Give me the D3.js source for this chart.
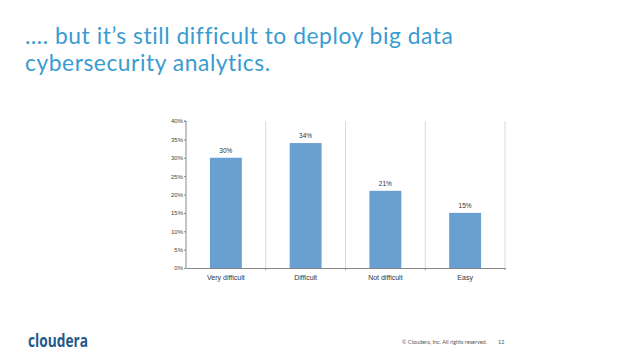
<!DOCTYPE html>
<html>
<head>
<meta charset="utf-8">
<script src="https://cdn.jsdelivr.net/npm/d3@7"></script>
<style>
  body { margin: 0; background: #fff; }
  svg { display: block; }
</style>
</head>
<body>
<svg width="638" height="359"></svg>
<script>
// datos del grafico
const categories = ["Very difficult", "Difficult", "Not difficult", "Easy"];
const values = [30, 34, 21, 15];
const yTicks = [0, 5, 10, 15, 20, 25, 30, 35, 40];
const titleLines = ["…. but it’s still difficult to deploy big data", "cybersecurity analytics."];

const svg = d3.select("svg");

// Titulo
svg.append("g")
  .selectAll("text")
  .data(titleLines)
  .enter()
  .append("text")
  .attr("x", 25)
  .attr("y", (d, i) => 44 + i * 27)
  .attr("fill", "#3a9bd0")
  .attr("font-family", "Lato, 'Open Sans', sans-serif")
  .attr("font-size", 22.8)
  .attr("letter-spacing", 0.55)
  .text((d) => d);

// Area del grafico
const plotLeft = 186, plotRight = 505, plotTop = 121, plotBottom = 268;

const x = d3.scaleBand().domain(categories).range([plotLeft, plotRight]).paddingInner(0.6).paddingOuter(0.3);
const xBand = d3.scaleBand().domain(categories).range([plotLeft, plotRight]);
const y = d3.scaleLinear().domain([0, 40]).range([plotBottom, plotTop]);

const chart = svg.append("g");

// Separadores verticales
chart.append("g")
  .selectAll("line")
  .data(categories)
  .enter()
  .append("line")
  .attr("x1", (d) => xBand(d) + xBand.bandwidth())
  .attr("x2", (d) => xBand(d) + xBand.bandwidth())
  .attr("y1", plotTop)
  .attr("y2", plotBottom)
  .attr("stroke", "#d9d9d9")
  .attr("stroke-width", 1);

// Barras
chart.append("g")
  .selectAll("rect")
  .data(values)
  .enter()
  .append("rect")
  .attr("x", (d, i) => x(categories[i]))
  .attr("width", x.bandwidth())
  .attr("y", (d) => y(d))
  .attr("height", (d) => plotBottom - y(d))
  .attr("fill", "#6a9fd2");

// Etiquetas de valores
chart.append("g")
  .selectAll("text")
  .data(values)
  .enter()
  .append("text")
  .attr("x", (d, i) => x(categories[i]) + x.bandwidth() / 2)
  .attr("y", (d) => y(d) - 5)
  .attr("text-anchor", "middle")
  .attr("font-family", "'Liberation Sans', Arial, sans-serif")
  .attr("font-size", 6.5)
  .attr("fill", "#333")
  .text((d) => d + "%");

// Eje Y
const yAxis = chart.append("g")
  .attr("transform", `translate(${plotLeft},0)`)
  .call(d3.axisLeft(y).tickValues(yTicks).tickSize(2).tickFormat((d) => d + "%"));
yAxis.select(".domain").attr("stroke", "#888").attr("d", `M-2,${plotTop}H0V${plotBottom}`);
yAxis.selectAll(".tick line").attr("stroke", "#888");
yAxis.selectAll(".tick text")
  .attr("font-family", "'Liberation Sans', Arial, sans-serif")
  .attr("font-size", 6)
  .attr("fill", "#444")
  .attr("x", -3);

// Eje X
const xAxis = chart.append("g")
  .attr("transform", `translate(0,${plotBottom})`)
  .call(d3.axisBottom(xBand).tickSize(0).tickPadding(7));
xAxis.select(".domain").attr("stroke", "#888");
xAxis.selectAll(".tick text")
  .attr("font-family", "'Liberation Sans', Arial, sans-serif")
  .attr("font-size", 7)
  .attr("fill", "#333");
xAxis.append("g")
  .selectAll("line")
  .data(categories)
  .enter()
  .append("line")
  .attr("x1", (d) => xBand(d) + xBand.bandwidth())
  .attr("x2", (d) => xBand(d) + xBand.bandwidth())
  .attr("y1", 0)
  .attr("y2", 2)
  .attr("stroke", "#888");

// Pie de pagina
svg.append("text")
  .attr("x", 28)
  .attr("y", 347)
  .attr("fill", "#1f5a8a")
  .attr("font-family", "'Open Sans', sans-serif")
  .attr("font-weight", "bold")
  .attr("font-size", 17.5)
  .attr("textLength", 60)
  .attr("lengthAdjust", "spacingAndGlyphs")
  .text("cloudera");

svg.append("text")
  .attr("x", 487)
  .attr("y", 344)
  .attr("text-anchor", "end")
  .attr("fill", "#555")
  .attr("font-family", "Lato, sans-serif")
  .attr("font-size", 5.5)
  .text("© Cloudera, Inc. All rights reserved.");

svg.append("text")
  .attr("x", 498)
  .attr("y", 344)
  .attr("fill", "#555")
  .attr("font-family", "Lato, sans-serif")
  .attr("font-size", 5.5)
  .text("12");
</script>
</body>
</html>
